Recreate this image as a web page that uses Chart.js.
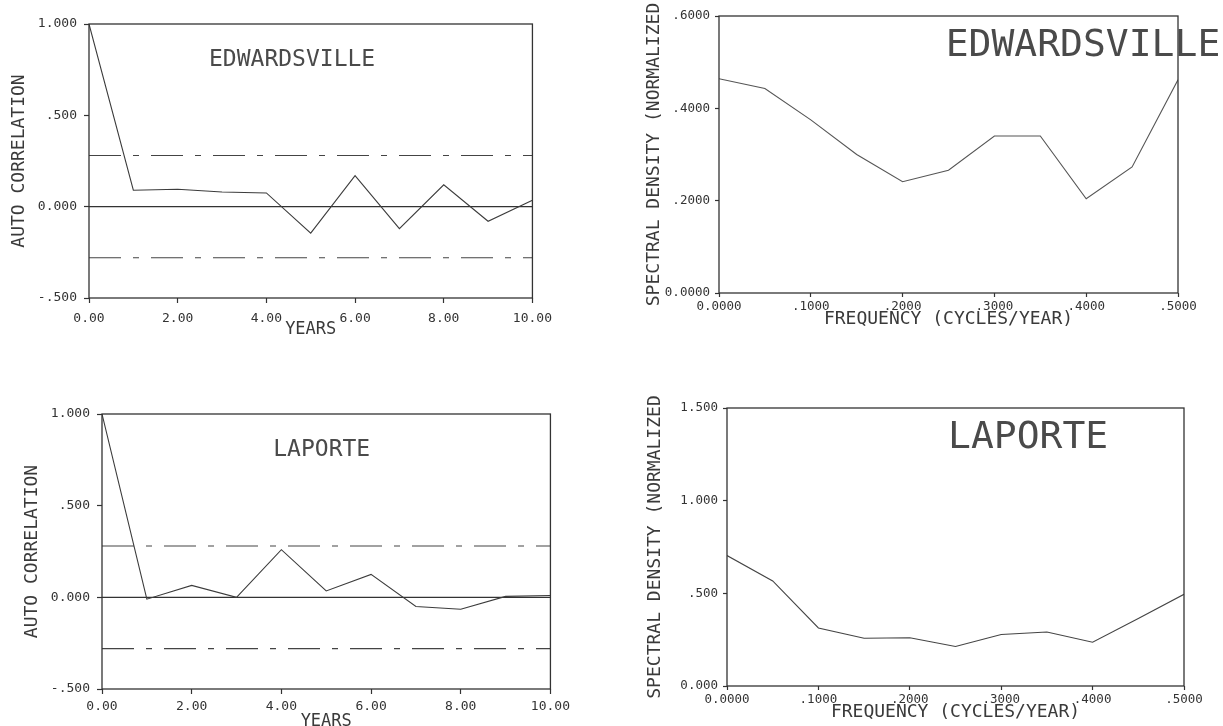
<!DOCTYPE html>
<html>
<head>
<meta charset="utf-8">
<script src="https://cdn.jsdelivr.net/npm/chart.js@4/dist/chart.umd.min.js"></script>
<style>
html, body { margin: 0; padding: 0; background: #fff; overflow: hidden; }
body { position: relative; width: 1223px; height: 726px; }
canvas { position: absolute; }
</style>
</head>
<body>
<canvas id="acfTop" width="560" height="340" style="left:0;top:0"></canvas>
<canvas id="acfBottom" width="575" height="352" style="left:0;top:380px"></canvas>
<canvas id="specTop" width="623" height="330" style="left:600px;top:0"></canvas>
<canvas id="specBottom" width="623" height="346" style="left:600px;top:380px"></canvas>
<script>
// autocorrelation, lags in years
var lags = [0, 1, 2, 3, 4, 5, 6, 7, 8, 9, 10];
var edwAcf = [1.0, 0.09, 0.095, 0.08, 0.075, -0.145, 0.17, -0.12, 0.12, -0.08, 0.035];
var lapAcf = [1.0, -0.01, 0.065, 0.0, 0.26, 0.035, 0.125, -0.05, -0.065, 0.005, 0.01];
var confLimit = 0.28;

// spectral density, frequency in cycles/year
var freqs = [0, 0.05, 0.1, 0.15, 0.2, 0.25, 0.3, 0.35, 0.4, 0.45, 0.5];
var edwSpec = [0.464, 0.443, 0.375, 0.300, 0.241, 0.266, 0.340, 0.340, 0.204, 0.273, 0.462];
var lapSpec = [0.704, 0.567, 0.313, 0.258, 0.260, 0.213, 0.278, 0.291, 0.236, 0.364, 0.495];

// tick labels
var acfYTicks = ['-.500', '0.000', '.500', '1.000'];
var yearTicks = ['0.00', '2.00', '4.00', '6.00', '8.00', '10.00'];
var edwSpecYTicks = ['0.0000', '.2000', '.4000', '.6000'];
var lapSpecYTicks = ['0.000', '.500', '1.000', '1.500'];
var freqTicks = ['0.0000', '.1000', '.2000', '.3000', '.4000', '.5000'];

var mono = '"DejaVu Sans Mono", "Liberation Mono", monospace';
var ink = '#333';

function pts(xs, ys) {
  return xs.map(function(x, i) { return {x: x, y: ys[i]}; });
}

// box round the plot area and the station name inside it
var framePlugin = {
  id: 'frame',
  afterDraw: function(chart, args, opts) {
    var a = chart.chartArea, ctx = chart.ctx;
    ctx.save();
    ctx.strokeStyle = ink;
    ctx.lineWidth = 1.3;
    ctx.strokeRect(a.left, a.top, a.right - a.left, a.bottom - a.top);
    ctx.font = opts.size + 'px ' + mono;
    ctx.fillStyle = '#4a4a4a';
    ctx.textAlign = 'center';
    ctx.textBaseline = 'middle';
    ctx.fillText(opts.text, a.left + opts.fx * (a.right - a.left), a.top + opts.fy * (a.bottom - a.top));
    ctx.restore();
  }
};

function axis(o) {
  return {
    type: 'linear',
    min: o.min, max: o.max,
    border: {display: false},
    grid: {drawOnChartArea: false, drawTicks: true, tickLength: o.tickLen, tickColor: ink, tickWidth: 1.2},
    ticks: {
      stepSize: o.step, autoSkip: false, maxRotation: 0, padding: o.pad, color: ink,
      font: {family: mono, size: o.tickSize},
      callback: function(v, i) { return o.labels[i]; }
    },
    title: {display: true, text: o.title, color: '#3a3a3a', font: {family: mono, size: o.titleSize}, padding: o.titlePad},
    afterFit: function(s) {
      if (o.width) s.width = o.width;
      if (o.height) s.height = o.height;
    }
  };
}

function makeChart(id, datasets, xOpts, yOpts, padding, label) {
  return new Chart(document.getElementById(id), {
    type: 'line',
    data: {datasets: datasets},
    options: {
      responsive: false,
      animation: false,
      devicePixelRatio: 1,
      layout: {padding: padding},
      plugins: {legend: {display: false}, tooltip: {enabled: false}, frame: label},
      elements: {point: {radius: 0}, line: {tension: 0}},
      scales: {x: axis(xOpts), y: axis(yOpts)}
    },
    plugins: [framePlugin]
  });
}

function acfSets(values) {
  var ends = [lags[0], lags[lags.length - 1]];
  return [
    {data: pts(lags, values), borderColor: '#3c3c3c', borderWidth: 1.1},
    {data: pts(ends, [0, 0]), borderColor: ink, borderWidth: 1.2},
    {data: pts(ends, [confLimit, confLimit]), borderColor: '#444', borderWidth: 1.1, borderDash: [32, 12, 6, 12]},
    {data: pts(ends, [-confLimit, -confLimit]), borderColor: '#444', borderWidth: 1.1, borderDash: [32, 12, 6, 12]}
  ];
}

makeChart('acfTop', acfSets(edwAcf),
  {min: 0, max: 10, step: 2, labels: yearTicks, title: 'YEARS', titleSize: 17, titlePad: 0, tickLen: 5, pad: 8, tickSize: 13, height: 42},
  {min: -0.5, max: 1.0, step: 0.5, labels: acfYTicks, title: 'AUTO CORRELATION', titleSize: 18, titlePad: {top: 9, bottom: 0}, tickLen: 5, pad: 7, tickSize: 13, width: 89},
  {top: 24, right: 15, left: 0, bottom: 0},
  {text: 'EDWARDSVILLE', size: 23, fx: 0.458, fy: 0.131});

makeChart('acfBottom', acfSets(lapAcf),
  {min: 0, max: 10, step: 2, labels: yearTicks, title: 'YEARS', titleSize: 17, titlePad: 0, tickLen: 5, pad: 5, tickSize: 13, height: 43},
  {min: -0.5, max: 1.0, step: 0.5, labels: acfYTicks, title: 'AUTO CORRELATION', titleSize: 18, titlePad: {top: 22, bottom: 0}, tickLen: 5, pad: 7, tickSize: 13, width: 102},
  {top: 34, right: 20, left: 0, bottom: 0},
  {text: 'LAPORTE', size: 23, fx: 0.49, fy: 0.13});

makeChart('specTop', [{data: pts(freqs, edwSpec), borderColor: '#555', borderWidth: 1.1}],
  {min: 0, max: 0.5, step: 0.1, labels: freqTicks, title: 'FREQUENCY (CYCLES/YEAR)', titleSize: 18, titlePad: 0, tickLen: 4, pad: 2, tickSize: 12.5, height: 37},
  {min: 0, max: 0.6, step: 0.2, labels: edwSpecYTicks, title: 'SPECTRAL DENSITY (NORMALIZED', titleSize: 18, titlePad: {top: 44, bottom: 0}, tickLen: 4, pad: 5, tickSize: 12.5, width: 119},
  {top: 16, right: 45, left: 0, bottom: 0},
  {text: 'EDWARDSVILLE', size: 38, fx: 0.793, fy: 0.109});

makeChart('specBottom', [{data: pts(freqs, lapSpec), borderColor: '#444', borderWidth: 1.1}],
  {min: 0, max: 0.5, step: 0.1, labels: freqTicks, title: 'FREQUENCY (CYCLES/YEAR)', titleSize: 18, titlePad: {top: 0, bottom: 3}, tickLen: 4, pad: 2, tickSize: 12.5, height: 40},
  {min: 0, max: 1.5, step: 0.5, labels: lapSpecYTicks, title: 'SPECTRAL DENSITY (NORMALIZED', titleSize: 18, titlePad: {top: 45, bottom: 0}, tickLen: 4, pad: 5, tickSize: 12.5, width: 127},
  {top: 28, right: 39, left: 0, bottom: 0},
  {text: 'LAPORTE', size: 38, fx: 0.659, fy: 0.109});
</script>
</body>
</html>
